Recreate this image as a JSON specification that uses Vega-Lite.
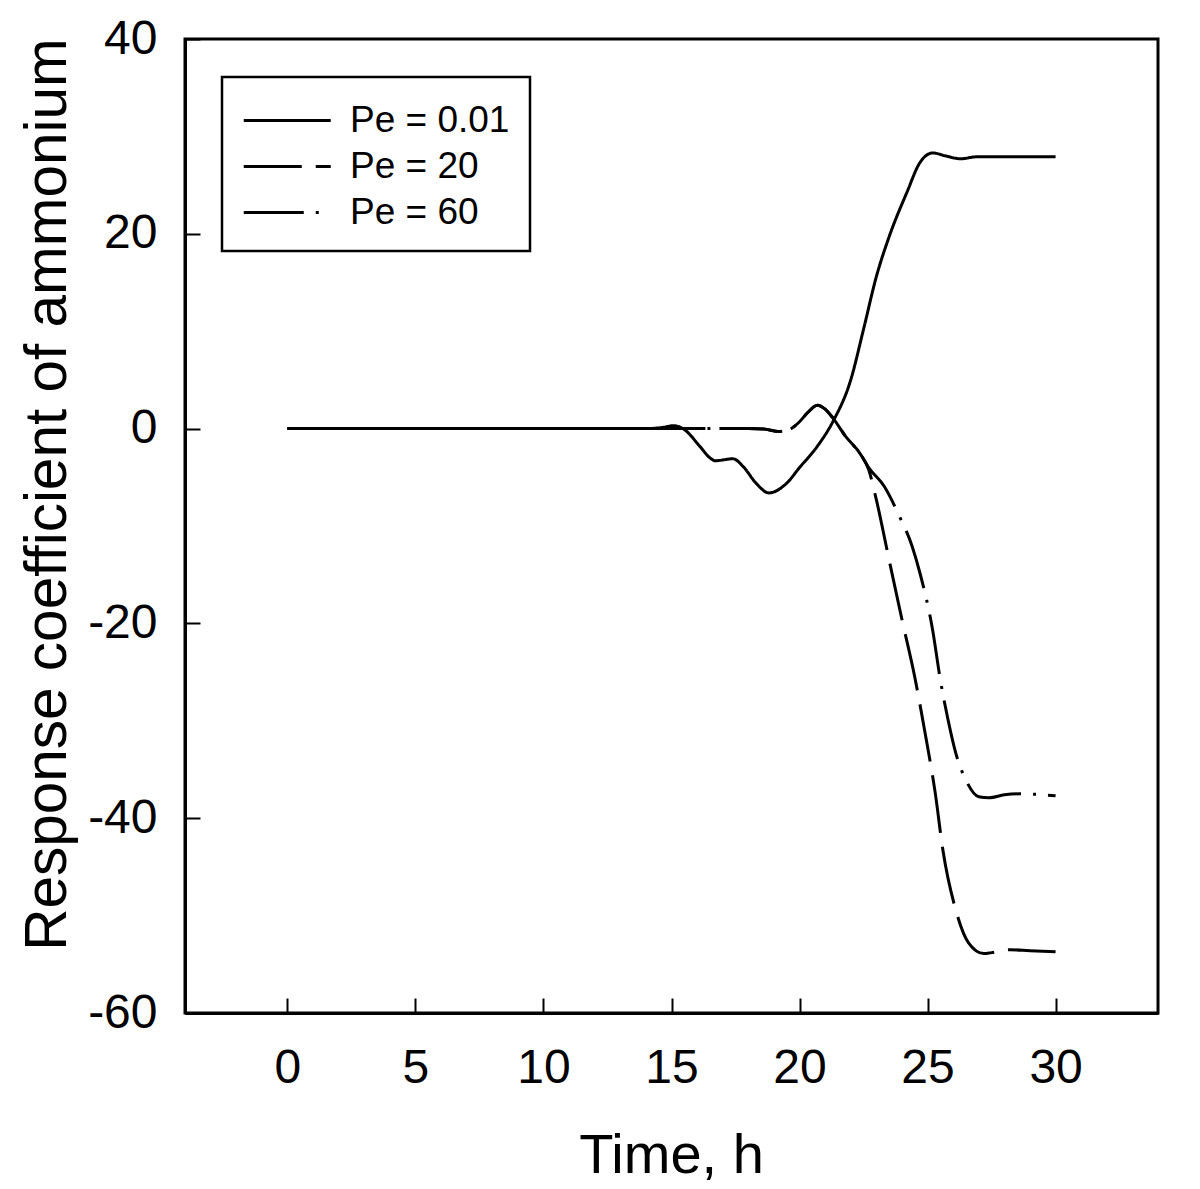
{
  "$schema": "https://vega.github.io/schema/vega-lite/v6.json",
  "width": 973,
  "height": 974,
  "autosize": {"type": "none"},
  "padding": {"left": 185, "top": 39, "right": 42, "bottom": 176},
  "background": "white",
  "config": {
    "font": "Liberation Sans",
    "view": {"stroke": "black", "strokeWidth": 3},
    "axis": {"grid": false, "domainColor": "black", "domainWidth": 3, "tickColor": "black", "tickWidth": 2, "tickSize": -15, "labelColor": "black", "titleColor": "black", "labelFont": "Liberation Sans", "titleFont": "Liberation Sans", "titleFontWeight": "normal"},
    "legend": {
      "orient": "none", "legendX": 37, "legendY": 38,
      "strokeColor": "black", "strokeWidth": 2.5, "padding": 20,
      "symbolType": "M-1,0H3", "symbolSize": 1892, "symbolStrokeWidth": 3, "symbolStrokeColor": "black",
      "labelFontSize": 37, "labelFont": "Liberation Sans", "labelColor": "black", "labelOffset": 61, "rowPadding": 4,
      "title": null
    }
  },
  "data": {"values": [
    {"series": "Pe = 0.01", "t": 0, "r": 0},
    {"series": "Pe = 0.01", "t": 5, "r": 0},
    {"series": "Pe = 0.01", "t": 10, "r": 0},
    {"series": "Pe = 0.01", "t": 14, "r": 0},
    {"series": "Pe = 0.01", "t": 14.6, "r": 0.1},
    {"series": "Pe = 0.01", "t": 15.1, "r": 0.3},
    {"series": "Pe = 0.01", "t": 15.5, "r": -0.1},
    {"series": "Pe = 0.01", "t": 16.1, "r": -1.8},
    {"series": "Pe = 0.01", "t": 16.5, "r": -3.0},
    {"series": "Pe = 0.01", "t": 16.7, "r": -3.3},
    {"series": "Pe = 0.01", "t": 17.4, "r": -3.1},
    {"series": "Pe = 0.01", "t": 17.8, "r": -3.9},
    {"series": "Pe = 0.01", "t": 18.3, "r": -5.6},
    {"series": "Pe = 0.01", "t": 18.8, "r": -6.6},
    {"series": "Pe = 0.01", "t": 19.5, "r": -5.6},
    {"series": "Pe = 0.01", "t": 20.0, "r": -4.0},
    {"series": "Pe = 0.01", "t": 20.7, "r": -1.8},
    {"series": "Pe = 0.01", "t": 21.3, "r": 0.7},
    {"series": "Pe = 0.01", "t": 22.0, "r": 5.0},
    {"series": "Pe = 0.01", "t": 22.5, "r": 10.2},
    {"series": "Pe = 0.01", "t": 23.0, "r": 15.6},
    {"series": "Pe = 0.01", "t": 23.5, "r": 19.7},
    {"series": "Pe = 0.01", "t": 24.2, "r": 24.3},
    {"series": "Pe = 0.01", "t": 24.7, "r": 27.3},
    {"series": "Pe = 0.01", "t": 25.2, "r": 28.3},
    {"series": "Pe = 0.01", "t": 25.7, "r": 28.0},
    {"series": "Pe = 0.01", "t": 26.3, "r": 27.7},
    {"series": "Pe = 0.01", "t": 26.9, "r": 27.9},
    {"series": "Pe = 0.01", "t": 28.0, "r": 27.9},
    {"series": "Pe = 0.01", "t": 30.0, "r": 27.9},
    {"series": "Pe = 20", "t": 0, "r": 0},
    {"series": "Pe = 20", "t": 5, "r": 0},
    {"series": "Pe = 20", "t": 10, "r": 0},
    {"series": "Pe = 20", "t": 15, "r": 0},
    {"series": "Pe = 20", "t": 18.0, "r": 0},
    {"series": "Pe = 20", "t": 18.6, "r": -0.05},
    {"series": "Pe = 20", "t": 19.2, "r": -0.3},
    {"series": "Pe = 20", "t": 19.6, "r": -0.1},
    {"series": "Pe = 20", "t": 20.0, "r": 0.7},
    {"series": "Pe = 20", "t": 20.3, "r": 1.6},
    {"series": "Pe = 20", "t": 20.7, "r": 2.4},
    {"series": "Pe = 20", "t": 21.0, "r": 2.0},
    {"series": "Pe = 20", "t": 21.3, "r": 1.1},
    {"series": "Pe = 20", "t": 21.8, "r": -0.8},
    {"series": "Pe = 20", "t": 22.4, "r": -2.7},
    {"series": "Pe = 20", "t": 22.7, "r": -4.2},
    {"series": "Pe = 20", "t": 23.0, "r": -7.3},
    {"series": "Pe = 20", "t": 23.5, "r": -13.5},
    {"series": "Pe = 20", "t": 24.0, "r": -19.6},
    {"series": "Pe = 20", "t": 24.5, "r": -25.5},
    {"series": "Pe = 20", "t": 24.9, "r": -31.2},
    {"series": "Pe = 20", "t": 25.3, "r": -37.4},
    {"series": "Pe = 20", "t": 25.6, "r": -43.3},
    {"series": "Pe = 20", "t": 26.1, "r": -49.4},
    {"series": "Pe = 20", "t": 26.6, "r": -52.8},
    {"series": "Pe = 20", "t": 27.2, "r": -53.9},
    {"series": "Pe = 20", "t": 27.5, "r": -53.8},
    {"series": "Pe = 20", "t": 28.2, "r": -53.5},
    {"series": "Pe = 20", "t": 29.0, "r": -53.6},
    {"series": "Pe = 20", "t": 30.0, "r": -53.7},
    {"series": "Pe = 60", "t": 0, "r": 0},
    {"series": "Pe = 60", "t": 5, "r": 0},
    {"series": "Pe = 60", "t": 10, "r": 0},
    {"series": "Pe = 60", "t": 15, "r": 0},
    {"series": "Pe = 60", "t": 18.0, "r": 0},
    {"series": "Pe = 60", "t": 18.6, "r": -0.05},
    {"series": "Pe = 60", "t": 19.2, "r": -0.3},
    {"series": "Pe = 60", "t": 19.6, "r": -0.1},
    {"series": "Pe = 60", "t": 20.0, "r": 0.7},
    {"series": "Pe = 60", "t": 20.3, "r": 1.6},
    {"series": "Pe = 60", "t": 20.7, "r": 2.4},
    {"series": "Pe = 60", "t": 21.0, "r": 2.0},
    {"series": "Pe = 60", "t": 21.3, "r": 1.1},
    {"series": "Pe = 60", "t": 21.8, "r": -0.8},
    {"series": "Pe = 60", "t": 22.4, "r": -2.7},
    {"series": "Pe = 60", "t": 22.7, "r": -4.0},
    {"series": "Pe = 60", "t": 23.3, "r": -5.9},
    {"series": "Pe = 60", "t": 23.9, "r": -9.0},
    {"series": "Pe = 60", "t": 24.4, "r": -12.1},
    {"series": "Pe = 60", "t": 24.7, "r": -14.8},
    {"series": "Pe = 60", "t": 25.2, "r": -20.7},
    {"series": "Pe = 60", "t": 25.5, "r": -25.8},
    {"series": "Pe = 60", "t": 25.8, "r": -29.9},
    {"series": "Pe = 60", "t": 26.1, "r": -33.3},
    {"series": "Pe = 60", "t": 26.5, "r": -36.1},
    {"series": "Pe = 60", "t": 27.0, "r": -37.8},
    {"series": "Pe = 60", "t": 27.4, "r": -37.9},
    {"series": "Pe = 60", "t": 28.0, "r": -37.6},
    {"series": "Pe = 60", "t": 28.6, "r": -37.5},
    {"series": "Pe = 60", "t": 30.0, "r": -37.7}
  ]},
  "mark": {"type": "line", "interpolate": "monotone", "color": "black", "strokeWidth": 3},
  "encoding": {
    "x": {"field": "t", "type": "quantitative", "scale": {"domain": [-4, 34], "nice": false, "zero": false},
      "axis": {"title": "Time, h", "values": [0, 5, 10, 15, 20, 25, 30], "labelFontSize": 48, "labelPadding": 46, "labelExpr": "'' + datum.value", "titleFontSize": 56, "titleBaseline": "alphabetic", "titleY": 159, "titleX": 486}},
    "y": {"field": "r", "type": "quantitative", "scale": {"domain": [-60, 40], "nice": false, "zero": false},
      "axis": {"title": "Response coefficient of ammonium", "values": [-60, -40, -20, 0, 20, 40], "labelFontSize": 48, "labelPadding": 43, "labelExpr": "'' + datum.value", "titleFontSize": 58.5, "titleBaseline": "alphabetic", "titleAngle": -90, "titleX": -120, "titleY": 455, "titleAlign": "center"}},
    "strokeDash": {"field": "series", "type": "nominal",
      "scale": {"domain": ["Pe = 0.01", "Pe = 20", "Pe = 60"], "range": [[1, 0], [58, 14], [60, 12, 3, 12]]},
      "legend": {"title": null, "labelExpr": "datum.label + '\u00a0'"}}
  }
}
